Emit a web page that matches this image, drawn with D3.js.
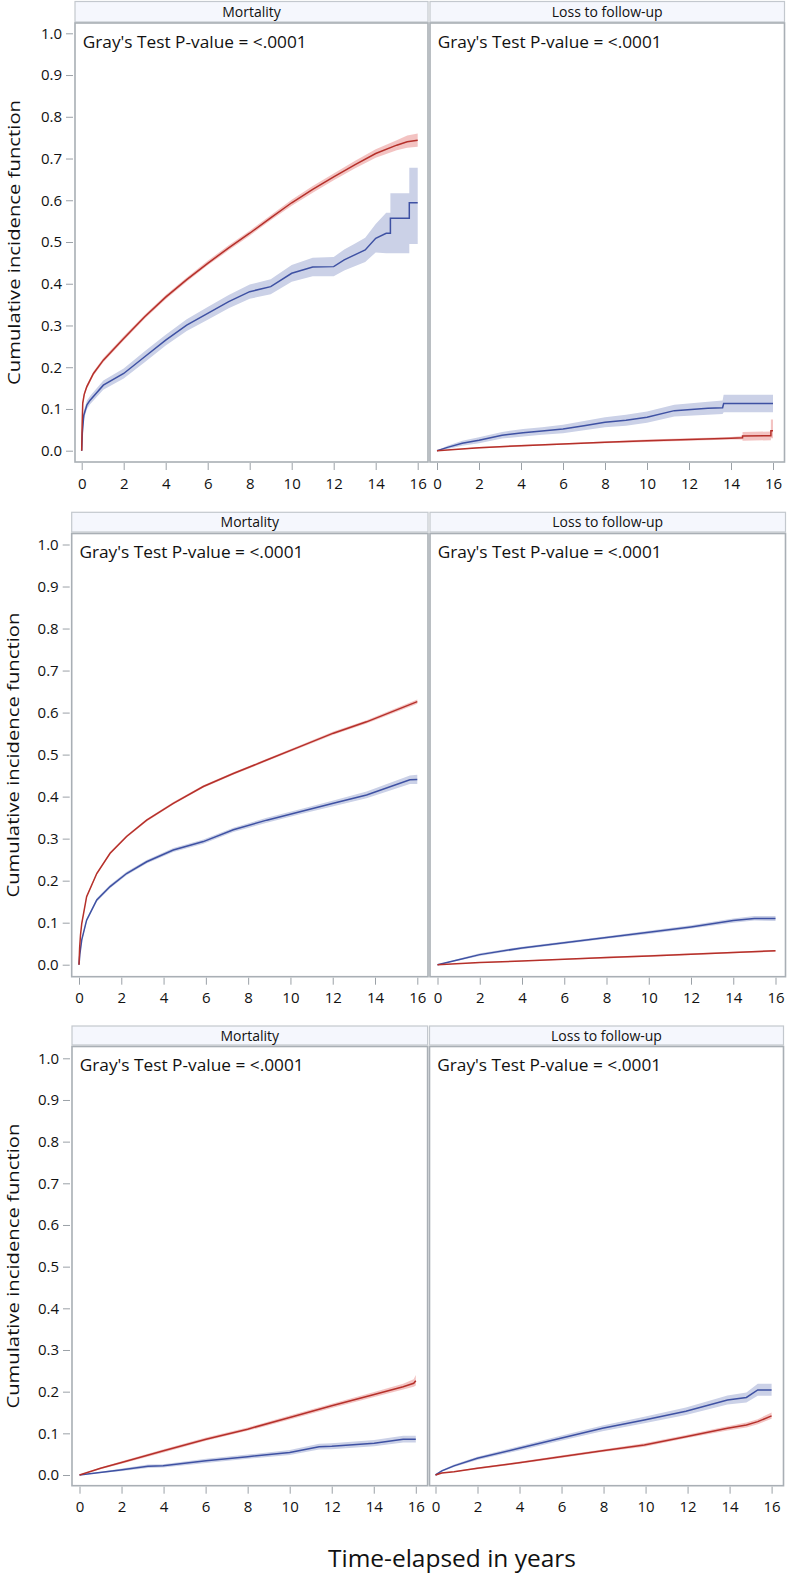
<!DOCTYPE html>
<html><head><meta charset="utf-8">
<script src="https://cdn.jsdelivr.net/npm/d3@7/dist/d3.min.js"></script>
<style>
html,body{margin:0;padding:0;background:#fff;}
svg{display:block;}
text{font-family:"Open Sans","Noto Sans",sans-serif;fill:#111;}
</style></head>
<body>
<svg id="chart" width="787" height="1577"></svg>
<script>
// ---------- DATA ----------
const panelTitles = ["Mortality", "Loss to follow-up"];
const testLabel = "Gray's Test P-value = <.0001";
const yTitle = "Cumulative incidence function";
const xTitle = "Time-elapsed in years";
const xTicks = [0, 2, 4, 6, 8, 10, 12, 14, 16];
const yTicks = [0, 0.1, 0.2, 0.3, 0.4, 0.5, 0.6, 0.7, 0.8, 0.9, 1.0];

// each row: [time, estimate, lower CI, upper CI]
const r1MortRed = [[0,0,0,0],[0.02,0.06,0.055,0.065],[0.05,0.114,0.109,0.119],[0.12,0.135,0.13,0.14],[0.24,0.153,0.148,0.158],[0.56,0.185,0.18,0.19],[1.03,0.217,0.212,0.222],[2,0.269,0.264,0.274],[3,0.321,0.316,0.326],[4,0.368,0.363,0.373],[5,0.41,0.405,0.415],[6,0.449,0.444,0.455],[7,0.486,0.48,0.492],[8,0.521,0.515,0.527],[9,0.558,0.552,0.564],[10,0.594,0.587,0.601],[11,0.626,0.618,0.634],[12,0.656,0.648,0.664],[13,0.685,0.676,0.694],[14,0.712,0.702,0.722],[15,0.732,0.72,0.744],[15.5,0.74,0.726,0.755],[16,0.744,0.728,0.76]];
const r1MortBlue = [[0,0,0,0],[0.03,0.042,0.034,0.05],[0.1,0.085,0.075,0.095],[0.25,0.11,0.1,0.12],[0.4,0.121,0.111,0.131],[1.03,0.157,0.146,0.168],[2,0.185,0.173,0.197],[3,0.225,0.212,0.238],[4,0.265,0.252,0.278],[5,0.301,0.287,0.315],[6,0.329,0.314,0.344],[7,0.357,0.341,0.373],[8,0.381,0.364,0.398],[9,0.393,0.375,0.411],[10,0.425,0.405,0.445],[11,0.44,0.418,0.462],[12,0.441,0.418,0.464],[12.5,0.457,0.432,0.482],[13,0.469,0.442,0.496],[13.5,0.481,0.452,0.51],[14,0.509,0.475,0.543],[14.5,0.521,0.473,0.57],[14.7,0.521,0.473,0.57],[14.7,0.557,0.473,0.617],[15.6,0.557,0.473,0.617],[15.6,0.594,0.495,0.678],[16,0.594,0.495,0.678]];
const r1LossRed = [[0,0,0,0],[2,0.007,0.005,0.009],[4,0.012,0.01,0.014],[6,0.016,0.014,0.018],[8,0.02,0.018,0.022],[10,0.024,0.021,0.027],[12,0.027,0.024,0.03],[14,0.03,0.027,0.033],[14.55,0.031,0.027,0.035],[14.55,0.035,0.024,0.045],[15.9,0.036,0.025,0.046],[15.9,0.048,0.03,0.075],[16,0.048,0.03,0.075]];
const r1LossBlue = [[0,0,0,0],[0.5,0.008,0.004,0.012],[1.2,0.018,0.012,0.024],[2,0.025,0.018,0.032],[3.1,0.037,0.029,0.045],[4.1,0.043,0.034,0.052],[5,0.047,0.038,0.056],[6,0.052,0.042,0.062],[7,0.06,0.049,0.071],[8,0.068,0.056,0.08],[9,0.073,0.06,0.086],[10,0.08,0.067,0.094],[11.3,0.096,0.082,0.11],[12.9,0.1015,0.086,0.117],[13.6,0.103,0.088,0.12],[13.65,0.113,0.092,0.134],[16,0.113,0.092,0.134]];

const r2MortRed = [[0,0,0,0],[0.03,0.04,0.038,0.042],[0.07,0.07,0.067,0.073],[0.13,0.098,0.095,0.101],[0.36,0.162,0.159,0.165],[0.84,0.217,0.214,0.22],[1.47,0.265,0.262,0.268],[2.25,0.305,0.302,0.308],[3.2,0.344,0.341,0.347],[4.46,0.384,0.381,0.387],[5.88,0.424,0.421,0.427],[7.3,0.455,0.452,0.458],[8.88,0.487,0.484,0.49],[10.45,0.519,0.516,0.522],[12.03,0.551,0.547,0.555],[13.6,0.578,0.574,0.582],[16,0.626,0.621,0.631]];
const r2MortBlue = [[0,0,0,0],[0.04,0.025,0.022,0.028],[0.13,0.059,0.055,0.063],[0.36,0.106,0.102,0.11],[0.84,0.154,0.15,0.158],[1.47,0.186,0.182,0.19],[2.25,0.217,0.213,0.221],[3.2,0.245,0.241,0.249],[4.46,0.273,0.268,0.278],[5.88,0.293,0.288,0.298],[7.3,0.321,0.316,0.326],[8.88,0.344,0.338,0.35],[10.45,0.364,0.358,0.37],[12.03,0.384,0.377,0.391],[13.6,0.404,0.396,0.412],[15.65,0.44,0.43,0.45],[16,0.441,0.43,0.452]];
const r2LossRed = [[0,0,0,0],[2,0.005,0.004,0.006],[4,0.009,0.008,0.01],[6,0.013,0.012,0.014],[8,0.017,0.015,0.019],[10,0.021,0.019,0.023],[12,0.025,0.023,0.027],[14,0.029,0.027,0.031],[16,0.033,0.031,0.035]];
const r2LossBlue = [[0,0,0,0],[1,0.012,0.01,0.014],[2,0.024,0.021,0.027],[4,0.04,0.037,0.043],[6,0.052,0.049,0.055],[8,0.065,0.062,0.068],[10,0.077,0.073,0.081],[12,0.09,0.086,0.094],[14,0.105,0.1,0.11],[15,0.11,0.105,0.116],[16,0.11,0.104,0.116]];

const r3MortRed = [[0,0,0,0],[1,0.016,0.014,0.018],[2,0.03,0.027,0.033],[4,0.058,0.054,0.062],[6.02,0.086,0.082,0.09],[8,0.11,0.106,0.114],[10,0.138,0.133,0.143],[12,0.166,0.161,0.171],[14.02,0.193,0.187,0.199],[15.4,0.212,0.205,0.219],[15.9,0.22,0.212,0.23],[16,0.226,0.215,0.24]];
const r3MortBlue = [[0,0,0,0],[1.94,0.012,0.009,0.015],[3.26,0.021,0.017,0.025],[3.98,0.022,0.018,0.026],[6.02,0.034,0.029,0.039],[8,0.044,0.039,0.049],[10,0.054,0.048,0.06],[11.4,0.068,0.061,0.075],[12,0.069,0.062,0.076],[14.02,0.076,0.069,0.084],[15.4,0.086,0.078,0.094],[16,0.086,0.078,0.094]];
const r3LossRed = [[0,0,0,0],[0.3,0.005,0.004,0.006],[0.88,0.008,0.007,0.009],[1.99,0.016,0.014,0.018],[3.98,0.0295,0.027,0.032],[5.96,0.044,0.041,0.047],[7.95,0.058,0.055,0.061],[9.94,0.072,0.068,0.076],[11.92,0.092,0.088,0.096],[13.9,0.112,0.107,0.117],[14.8,0.12,0.114,0.126],[15.34,0.128,0.122,0.134],[16,0.142,0.135,0.15]];
const r3LossBlue = [[0,0,0,0],[0.3,0.01,0.008,0.012],[0.88,0.022,0.019,0.025],[1.99,0.04,0.036,0.044],[3.98,0.064,0.059,0.069],[5.96,0.088,0.082,0.094],[7.95,0.112,0.105,0.119],[9.94,0.132,0.124,0.14],[11.92,0.153,0.144,0.162],[13.9,0.18,0.169,0.191],[14.8,0.186,0.174,0.198],[15.34,0.204,0.19,0.219],[16,0.204,0.19,0.219]];

// ---------- LAYOUT ----------
const rows = [
  {hTop:1.5, hBot:22, bTop:23, bBot:462, y1:33.3, y0:450.7, yt:14,
   cells:[{bl:75,br:428,x0:81.7,x16:417.7,red:r1MortRed,blue:r1MortBlue},
          {bl:430,br:784.5,x0:437,x16:773,red:r1LossRed,blue:r1LossBlue}]},
  {hTop:512.3, hBot:532, bTop:533.5, bBot:976.7, y1:544.5, y0:964.7, yt:13,
   cells:[{bl:71.7,br:428,x0:79,x16:417.3,red:r2MortRed,blue:r2MortBlue},
          {bl:430,br:785.5,x0:437.5,x16:775.5,red:r2LossRed,blue:r2LossBlue}]},
  {hTop:1026, hBot:1045, bTop:1046.5, bBot:1485.7, y1:1058.3, y0:1475, yt:13,
   cells:[{bl:72,br:427.6,x0:79.5,x16:415.8,red:r3MortRed,blue:r3MortBlue},
          {bl:429.5,br:783.5,x0:435.5,x16:771.6,red:r3LossRed,blue:r3LossBlue}]}
];

const RED = "#B5302A", BLUE = "#3E51A3";
const RED_BAND = "#F2BDBB", BLUE_BAND = "#CBD1E7";
const svg = d3.select("#chart");

rows.forEach(row => {
  const y = d3.scaleLinear().domain([0, 1]).range([row.y0, row.y1]);
  row.cells.forEach((c, ci) => {
    const x = d3.scaleLinear().domain([0, 16]).range([c.x0, c.x16]);
    const g = svg.append("g");
    g.append("rect").attr("x", c.bl).attr("y", row.hTop).attr("width", c.br - c.bl).attr("height", row.hBot - row.hTop)
      .attr("fill", "#F5F7FD").attr("stroke", "#C3C8CE").attr("stroke-width", 1.2);
    g.append("text").attr("x", (c.bl + c.br) / 2).attr("y", (row.hTop + row.hBot) / 2 + 5)
      .attr("text-anchor", "middle").attr("font-size", 14).text(panelTitles[ci]);
    g.append("rect").attr("x", c.bl).attr("y", row.bTop).attr("width", c.br - c.bl).attr("height", row.bBot - row.bTop)
      .attr("fill", "#fff").attr("stroke", "#A9AFB5").attr("stroke-width", 1.6);
    const area = d3.area().x(d => x(d[0])).y0(d => y(d[2])).y1(d => y(d[3]));
    const line = d3.line().x(d => x(d[0])).y(d => y(d[1]));
    g.append("path").datum(c.blue).attr("d", area).attr("fill", BLUE_BAND);
    g.append("path").datum(c.red).attr("d", area).attr("fill", RED_BAND).attr("fill-opacity", 0.9);
    g.append("path").datum(c.blue).attr("d", line).attr("fill", "none").attr("stroke", BLUE).attr("stroke-width", 1.5);
    g.append("path").datum(c.red).attr("d", line).attr("fill", "none").attr("stroke", RED).attr("stroke-width", 1.5);
    g.append("text").attr("x", c.bl + 7.7).attr("y", row.bTop + 24.7).attr("font-size", 17)
      .attr("textLength", 224).attr("lengthAdjust", "spacingAndGlyphs").text(testLabel);
    const xa = g.append("g").attr("transform", `translate(0,${row.bBot + 1})`)
      .call(d3.axisBottom(x).tickValues(xTicks).tickSize(7).tickPadding(8).tickFormat(d3.format("d")));
    xa.select(".domain").remove();
    xa.selectAll("line").attr("stroke", "#9BA1A7");
    xa.selectAll("text").attr("font-size", 15).attr("fill", "#111").style("font-family", "'Open Sans', sans-serif");
    if (ci === 0) {
      const ya = g.append("g").attr("transform", `translate(${c.bl - 2},0)`)
        .call(d3.axisLeft(y).tickValues(yTicks).tickSize(7).tickPadding(4).tickFormat(d3.format(".1f")));
      ya.select(".domain").remove();
      ya.selectAll("line").attr("stroke", "#9BA1A7");
      ya.selectAll("text").attr("font-size", 15).attr("fill", "#111").style("font-family", "'Open Sans', sans-serif");
      g.append("text").attr("transform", `translate(${row.yt},${(row.bTop + row.bBot) / 2}) rotate(-90)`)
        .attr("text-anchor", "middle").attr("dy", "0.35em").attr("font-size", 17)
        .attr("textLength", 285).attr("lengthAdjust", "spacingAndGlyphs").text(yTitle);
    }
  });
});

svg.append("text").attr("x", 452).attr("y", 1567).attr("text-anchor", "middle")
  .attr("font-size", 23).attr("textLength", 248).attr("lengthAdjust", "spacingAndGlyphs").text(xTitle);
</script>
</body></html>
